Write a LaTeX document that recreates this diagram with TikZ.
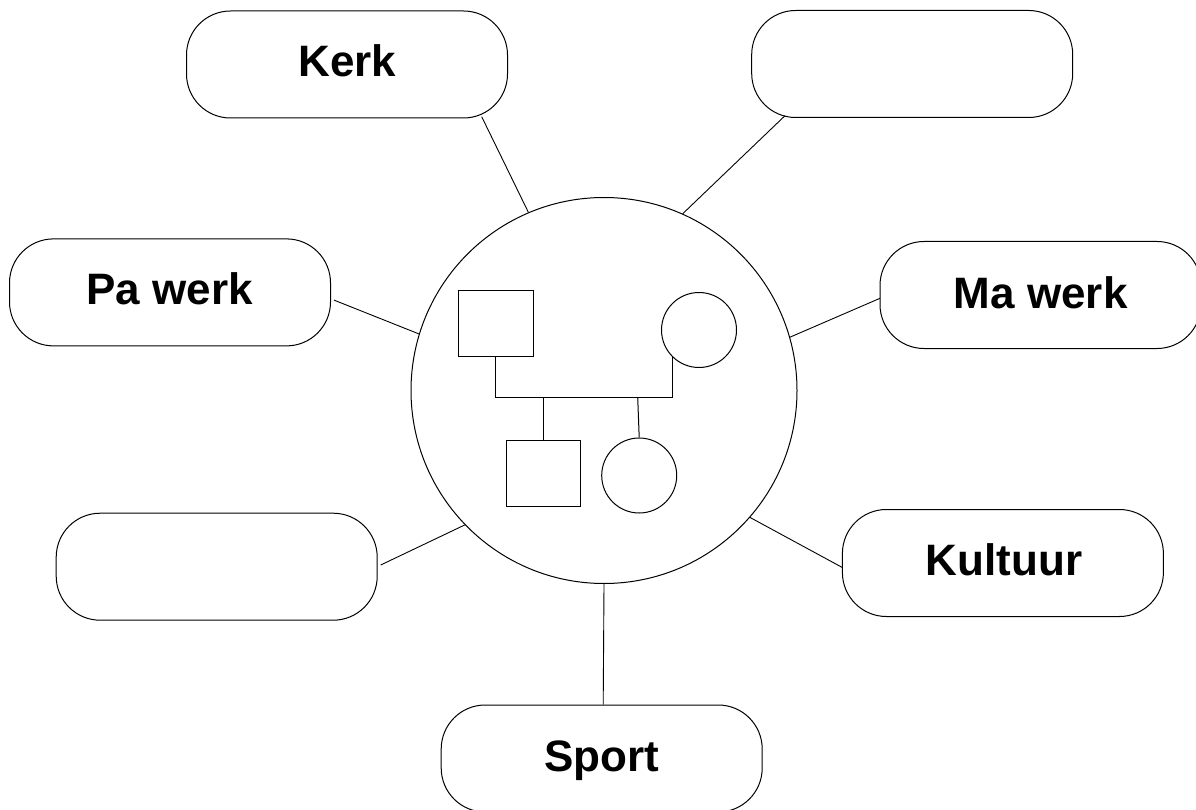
\documentclass[tikz,border=0pt]{standalone}
\usepackage{fontspec}
\setmainfont{Liberation Sans}
\begin{document}
\begin{tikzpicture}[x=1pt,y=-1pt,line width=1pt,
  stadium/.style={draw, rounded corners=44pt, minimum width=321pt, minimum height=107pt, inner sep=0pt},
  lbl/.style={anchor=base, inner sep=0pt, font=\fontsize{44}{53}\selectfont\bfseries},
  person/.style={draw, inner sep=0pt},
  spoke/.style={line width=0.9pt}]
\useasboundingbox (0,0) rectangle (1196,810);

% outer stadiums
\node[stadium] (kerk) at (347,64.5) {};
\node[stadium] (leeg1) at (912.2,64) {};
\node[stadium] (pa) at (170,292.4) {};
\node[stadium] (ma) at (1040.5,295) {};
\node[stadium] (leeg2) at (216.7,566.7) {};
\node[stadium] (kultuur) at (1002.9,563) {};
\node[stadium] (sport) at (601.7,758.5) {};

% labels
\node[lbl] (kerkT) at (347.5,77) {Kerk};
\node[lbl] (paT) at (169.7,305) {Pa werk};
\node[lbl] (maT) at (1040.7,308.3) {Ma werk};
\node[lbl] (kultuurT) at (1004,575) {Kultuur};
\node[lbl] (sportT) at (601.7,771.7) {Sport};

% central circle
\node[draw, circle, minimum size=386pt, inner sep=0pt] (gezin) at (604,390.5) {};

% spokes
\draw[spoke] ([shift={(134.7,52.2)}]kerk.center) -- (gezin.113.5);
\draw[spoke] ([shift={(-127.2,51.7)}]leeg1.center) -- (gezin.66.5);
\draw[spoke] ([shift={(164,7.7)}]pa.center) -- (gezin.163.4);
\draw[spoke] ([shift={(-160.5,3.3)}]ma.center) -- (gezin.16.3);
\draw[spoke] ([shift={(164,-1.7)}]leeg2.center) -- (gezin.224.3);
\draw[spoke] ([shift={(-160.2,4.7)}]kultuur.center) -- (gezin.319.9);
\draw[spoke] ([xshift=1.5pt]sport.north) -- (gezin.270);

% family inside
\node[person, minimum width=75pt, minimum height=65.7pt] (vader) at (495.8,323.2) {};
\node[person, circle, minimum size=75pt] (moeder) at (699,330) {};
\node[person, minimum width=74.3pt, minimum height=65.3pt] (zoon) at (543.2,473.4) {};
\node[person, circle, minimum size=75pt] (dochter) at (639.2,475.5) {};

\coordinate (bar) at (584,397.3);
\draw (vader.south) |- (bar) -| (moeder.225);
\draw (zoon.north) -- (zoon.north |- bar);
\draw (dochter.north) -- ([xshift=-1.5pt]dochter.north |- bar);
\end{tikzpicture}
\end{document}
